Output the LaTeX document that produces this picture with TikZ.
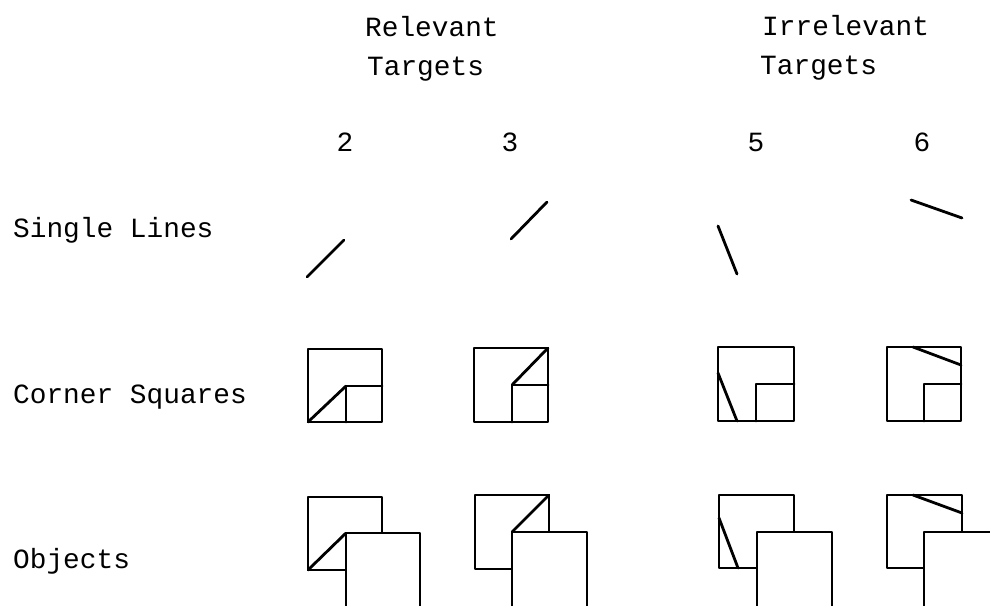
\documentclass[tikz,border=0pt]{standalone}
\usepackage{fontspec}
\setmonofont{Liberation Mono}
\begin{document}
\begin{tikzpicture}[x=1pt,y=-1pt,
  lbl/.style={font=\ttfamily\fontsize{27.8}{30}\selectfont, inner sep=0pt, anchor=base west},
  num/.style={font=\ttfamily\fontsize{27.8}{30}\selectfont, inner sep=0pt, anchor=base},
  stroke/.style={line width=2.8pt, line cap=round, line join=round},
  front/.style={stroke, fill=white},
]
\useasboundingbox (0,0) rectangle (990,605);
\clip (0,0) rectangle (990,605);

% headers
\node[lbl] (rel1) at (365,36) {Relevant};
\node[lbl] (rel2) at (367,75) {Targets};
\node[lbl] (irr1) at (762,35) {Irrelevant};
\node[lbl] (irr2) at (760,74) {Targets};
\node[num] (n2) at (345,151) {2};
\node[num] (n3) at (510,151) {3};
\node[num] (n5) at (756,151) {5};
\node[num] (n6) at (922,151) {6};

% row labels
\node[lbl] (rowA) at (13,237) {Single Lines};
\node[lbl] (rowB) at (13,403) {Corner Squares};
\node[lbl] (rowC) at (13,568) {Objects};

% single lines
\draw[stroke] (307,277) -- (344,240);
\draw[stroke] (511,239) -- (547,202);
\draw[stroke] (718,226) -- (737,274);
\draw[stroke] (911,200) -- (962,218);

% corner squares
\draw[stroke] (308,349) rectangle (382,422);
\draw[stroke] (346,422) -- (346,386) -- (382,386);
\draw[stroke] (308,422) -- (346,386);

\draw[stroke] (474,348) rectangle (548,422);
\draw[stroke] (512,422) -- (512,385) -- (548,385);
\draw[stroke] (512,385) -- (548,348);

\draw[stroke] (718,347) rectangle (794,421);
\draw[stroke] (756,421) -- (756,384) -- (794,384);
\draw[stroke] (718,373) -- (737,421);

\draw[stroke] (887,347) rectangle (961,421);
\draw[stroke] (924,421) -- (924,384) -- (961,384);
\draw[stroke] (913,347) -- (961,365);

% objects
\draw[stroke] (308,497) rectangle (382,570);
\draw[stroke] (308,570) -- (346,533);
\filldraw[front] (346,612) -- (346,533) -- (420,533) -- (420,612);

\draw[stroke] (475,495) rectangle (549,569);
\draw[stroke] (512,532) -- (549,495);
\filldraw[front] (512,612) -- (512,532) -- (587,532) -- (587,612);

\draw[stroke] (719,495) rectangle (794,568);
\draw[stroke] (719,518) -- (738,568);
\filldraw[front] (757,612) -- (757,532) -- (832,532) -- (832,612);

\draw[stroke] (887,495) rectangle (962,568);
\draw[stroke] (913,495) -- (962,513);
\filldraw[front] (924,612) -- (924,532) -- (999,532) -- (999,612);
\end{tikzpicture}
\end{document}
